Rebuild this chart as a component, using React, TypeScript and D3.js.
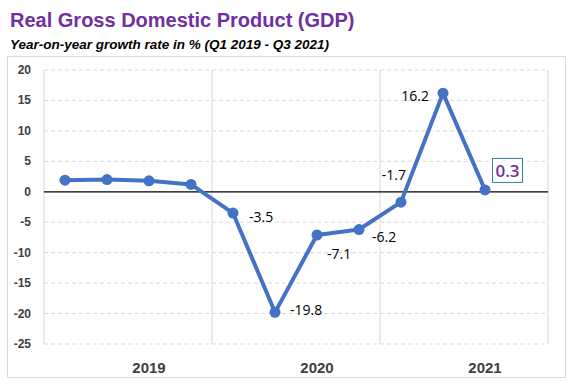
import React from 'react'
import * as d3 from 'd3'

const quarters = ['Q1 2019', 'Q2 2019', 'Q3 2019', 'Q4 2019', 'Q1 2020', 'Q2 2020', 'Q3 2020', 'Q4 2020', 'Q1 2021', 'Q2 2021', 'Q3 2021', 'Q4 2021']
const growth = [1.9, 2.0, 1.8, 1.2, -3.5, -19.8, -7.1, -6.2, -1.7, 16.2, 0.3]
const years = ['2019', '2020', '2021']
const yTicks = [20, 15, 10, 5, 0, -5, -10, -15, -20, -25]
// labelled points: index -> placement
const labelled = [
    { i: 4, dx: 16, dy: 9, anchor: 'start' },
    { i: 5, dx: 15, dy: 3, anchor: 'start' },
    { i: 6, dx: 10, dy: 24, anchor: 'start' },
    { i: 7, dx: 13, dy: 12, anchor: 'start' },
    { i: 8, dx: 5, dy: -22, anchor: 'end' },
    { i: 9, dx: -14, dy: 8, anchor: 'end' },
]

const labelFont = '"Open Sans", Carlito, sans-serif'

export default function App() {
    const width = 576
    const height = 390
    const left = 44, right = 548, top = 70, bottom = 344

    const x = d3.scaleBand().domain(quarters).range([left, right])
    const y = d3.scaleLinear().domain([-25, 20]).range([bottom, top])
    const cx = (i: number) => (x(quarters[i]) as number) + x.bandwidth() / 2

    const line = d3.line<number>()
        .x((d, i) => cx(i))
        .y(d => y(d))

    const last = growth.length - 1

    return (
        <svg width={width} height={height} style={{ position: 'absolute', left: 0, top: 0, fontFamily: 'Arial, "Liberation Sans", sans-serif' }}>
            <rect x={0} y={0} width={width} height={height} fill="#fff" />
            <text x={10} y={27} fill="#7030A0" fontSize={20} fontWeight="bold">Real Gross Domestic Product (GDP)</text>
            <text x={10} y={49} fill="#000" fontSize={13.5} fontWeight="bold" fontStyle="italic">Year-on-year growth rate in % (Q1 2019 - Q3 2021)</text>

            <rect x={7.5} y={56.5} width={558} height={321} fill="none" stroke="#d9d9d9" />

            {yTicks.map(t => (
                <g key={t}>
                    {t !== 0 && (
                        <line x1={left} x2={right} y1={y(t)} y2={y(t)} stroke="#d9d9d9" strokeDasharray="4,3" />
                    )}
                    <text x={31} y={y(t) + 4} textAnchor="end" fontSize={12} fontWeight="bold" fill="#404040">{t}</text>
                </g>
            ))}

            <line x1={left} x2={left} y1={top} y2={bottom} stroke="#d9d9d9" />
            {[4, 8].map(k => (
                <line key={k} x1={x(quarters[k])} x2={x(quarters[k])} y1={top} y2={bottom} stroke="#d9d9d9" />
            ))}
            <line x1={right} x2={right} y1={top} y2={bottom} stroke="#d9d9d9" />
            <line x1={left} x2={right} y1={y(0)} y2={y(0)} stroke="#000" strokeWidth={1.2} />

            <path d={line(growth) as string} fill="none" stroke="#4472C4" strokeWidth={4} strokeLinejoin="round" />
            {growth.map((d, i) => (
                <circle key={i} cx={cx(i)} cy={y(d)} r={5.5} fill="#4472C4" />
            ))}

            {labelled.map(l => (
                <text key={l.i} x={cx(l.i) + l.dx} y={y(growth[l.i]) + l.dy} textAnchor={l.anchor} fontSize={14} fill="#000" fontFamily={labelFont}>
                    {growth[l.i].toFixed(1)}
                </text>
            ))}

            <rect x={cx(last) + 7.5} y={y(growth[last]) - 31.5} width={30} height={24} fill="#fff" stroke="#31859C" />
            <text x={cx(last) + 22.5} y={y(growth[last]) - 12.5} textAnchor="middle" fontSize={17} fontWeight={600} fill="#7030A0" fontFamily={labelFont}>
                {growth[last].toFixed(1)}
            </text>

            {years.map((yr, k) => (
                <text key={yr} x={cx(k * 4 + 2)} y={373} textAnchor="middle" fontSize={15} fontWeight="bold" fill="#404040">{yr}</text>
            ))}
        </svg>
    )
}
